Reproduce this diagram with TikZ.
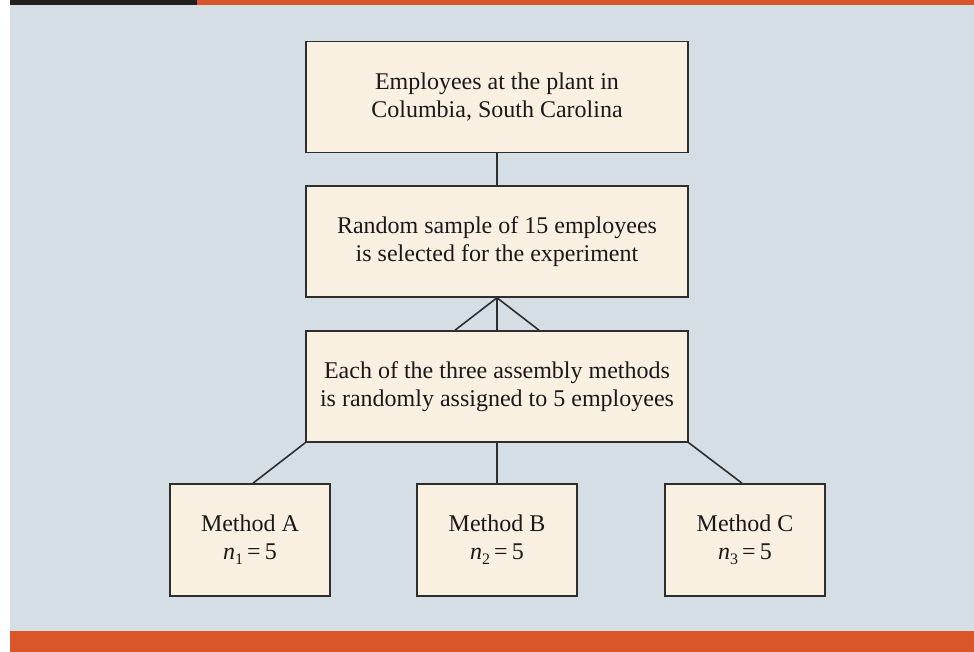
\documentclass[tikz,border=0pt]{standalone}
\usepackage{fontspec}
\setmainfont{Liberation Serif}
\usetikzlibrary{calc}
\definecolor{bgblue}{HTML}{D5DEE5}
\definecolor{boxfill}{HTML}{F9F0E2}
\definecolor{barorange}{HTML}{D9552A}
\definecolor{bardark}{HTML}{231F20}
\definecolor{edge}{HTML}{2E2E2E}
\newcommand{\nsub}[1]{\textit{n}\raisebox{-0.22em}{\fontsize{16}{16}\selectfont #1}\,=\,5}
\tikzset{
  flowbox/.style={draw=edge, line width=1.6pt, fill=boxfill, rectangle, align=center,
    inner sep=0pt, text=black!90, font=\fontsize{24}{28}\selectfont},
  bigbox/.style={flowbox, minimum width=382pt, minimum height=111pt},
  smallbox/.style={flowbox, minimum width=160pt, minimum height=112pt},
  link/.style={draw=edge, line width=1.6pt}
}
\begin{document}
\begin{tikzpicture}[x=1pt,y=-1pt]
\useasboundingbox (0,0) rectangle (974,652);
\fill[white] (0,0) rectangle (974,652);
\fill[bgblue] (10,5) rectangle (974,631);
\fill[bardark] (10,0) rectangle (197,5);
\fill[barorange] (197,0) rectangle (974,5);
\fill[barorange] (10,631) rectangle (974,652);

\node[bigbox] (b1) at (497,97) {Employees at the plant in\\Columbia, South Carolina};
\node[bigbox] (b2) at (497,241.5) {Random sample of 15 employees\\is selected for the experiment};
\node[bigbox] (b3) at (497,386.5) {Each of the three assembly methods\\is randomly assigned to 5 employees};
\node[smallbox] (bA) at (250,540) {Method A\\\nsub{1}};
\node[smallbox] (bB) at (497,540) {Method B\\\nsub{2}};
\node[smallbox] (bC) at (745,540) {Method C\\\nsub{3}};

\draw[link] (b1.south) -- (b2.north);
\draw[link] (b2.south) -- (b3.north);
\draw[link] (b2.south) -- ($(b3.north)+(-42,0)$);
\draw[link] (b2.south) -- ($(b3.north)+(42,0)$);
\draw[link] (b3.south west) -- ($(bA.north)+(3,0)$);
\draw[link] (b3.south) -- (bB.north);
\draw[link] (b3.south east) -- ($(bC.north)+(-3,0)$);
\end{tikzpicture}
\end{document}
